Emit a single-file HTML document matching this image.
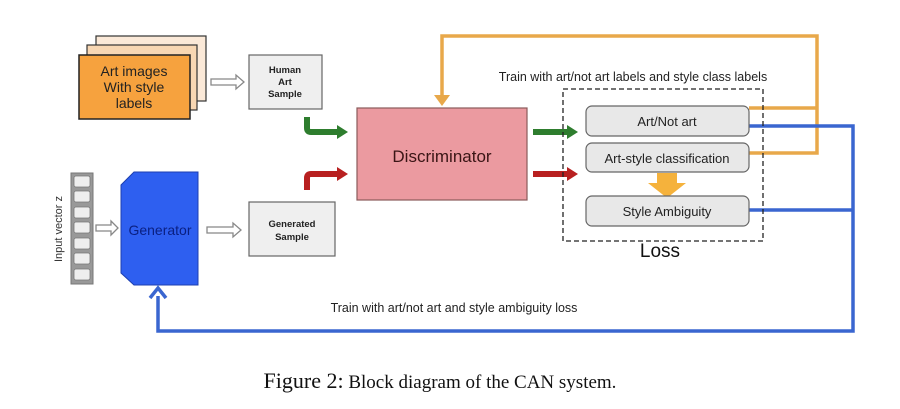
<!DOCTYPE html>
<html><head><meta charset="utf-8"><style>
html,body{margin:0;padding:0;background:#fff;}
svg{display:block;}
text{font-family:"Liberation Sans",sans-serif;}
</style></head><body>
<svg width="900" height="409" viewBox="0 0 900 409" xmlns="http://www.w3.org/2000/svg">
<!-- stacked art images -->
<rect x="96" y="36" width="110" height="65" fill="#fbe9d8" stroke="#333" stroke-width="1.2"/>
<rect x="87" y="45" width="110" height="65" fill="#f8d7b3" stroke="#333" stroke-width="1.2"/>
<rect x="79" y="55" width="111" height="64" fill="#f6a23e" stroke="#222" stroke-width="1.5"/>
<text x="134" y="76" font-size="14" text-anchor="middle" fill="#222">Art images</text>
<text x="134" y="92" font-size="14" text-anchor="middle" fill="#222">With style</text>
<text x="134" y="108" font-size="14" text-anchor="middle" fill="#222">labels</text>
<!-- hollow arrows -->
<g fill="#fff" stroke="#888" stroke-width="1.3">
<path d="M211 79 H236 V75 L244 82 L236 89 V85 H211 Z"/>
<path d="M96 225 H111 V221 L118 228 L111 235 V231 H96 Z"/>
<path d="M207 227 H233 V223 L241 230 L233 237 V233 H207 Z"/>
</g>
<!-- human art sample -->
<rect x="249" y="55" width="73" height="54" fill="#efefef" stroke="#666" stroke-width="1.2"/>
<text x="285" y="73" font-size="9.5" font-weight="bold" text-anchor="middle" fill="#222">Human</text>
<text x="285" y="85" font-size="9.5" font-weight="bold" text-anchor="middle" fill="#222">Art</text>
<text x="285" y="97" font-size="9.5" font-weight="bold" text-anchor="middle" fill="#222">Sample</text>
<!-- generated sample -->
<rect x="249" y="202" width="86" height="54" fill="#efefef" stroke="#666" stroke-width="1.2"/>
<text x="292" y="227" font-size="9.5" font-weight="bold" text-anchor="middle" fill="#222">Generated</text>
<text x="292" y="240" font-size="9.5" font-weight="bold" text-anchor="middle" fill="#222">Sample</text>
<!-- green / red bent arrows -->
<path d="M307 117 V128 Q307 132 311 132 H338" fill="none" stroke="#2e7d2e" stroke-width="6"/>
<path d="M337 125 L348 132 L337 139 Z" fill="#2e7d2e"/>
<path d="M307 190 V178 Q307 174 311 174 H338" fill="none" stroke="#b82020" stroke-width="6"/>
<path d="M337 167 L348 174 L337 181 Z" fill="#b82020"/>
<!-- input vector -->
<rect x="71" y="173" width="22" height="111" fill="#999" stroke="#777"/>
<g fill="#eee" stroke="#777" stroke-width="0.8">
<rect x="74" y="176" width="16" height="11" rx="2"/>
<rect x="74" y="191" width="16" height="11" rx="2"/>
<rect x="74" y="207" width="16" height="11" rx="2"/>
<rect x="74" y="222" width="16" height="11" rx="2"/>
<rect x="74" y="238" width="16" height="11" rx="2"/>
<rect x="74" y="253" width="16" height="11" rx="2"/>
<rect x="74" y="269" width="16" height="11" rx="2"/>
</g>
<text transform="translate(62 229) rotate(-90)" font-size="11" text-anchor="middle" fill="#333">Input vector z</text>
<!-- generator -->
<path d="M134 172 H198 V285 H134 L121 273 V185 Z" fill="#2e5ff0" stroke="#1d3fb0" stroke-width="1"/>
<text x="160" y="235" font-size="14" text-anchor="middle" fill="#0a1f80">Generator</text>
<!-- discriminator -->
<rect x="357" y="108" width="170" height="92" fill="#eb9aa0" stroke="#8a5a5a" stroke-width="1.2"/>
<text x="442" y="162" font-size="17" text-anchor="middle" fill="#3a1515">Discriminator</text>
<!-- orange loop -->
<path d="M749 108 H817 M749 153 H817 V36 H442 V98" fill="none" stroke="#e8a84a" stroke-width="3.5"/>
<path d="M434 95 L442 106 L450 95 Z" fill="#e8a84a"/>
<text x="633" y="81" font-size="12.5" text-anchor="middle" fill="#222">Train with art/not art labels and style class labels</text>
<!-- green/red arrows to loss -->
<path d="M533 132 H568" stroke="#2e7d2e" stroke-width="6"/>
<path d="M567 125 L578 132 L567 139 Z" fill="#2e7d2e"/>
<path d="M533 174 H568" stroke="#b82020" stroke-width="6"/>
<path d="M567 167 L578 174 L567 181 Z" fill="#b82020"/>
<!-- blue loop -->
<path d="M749 126 H853 V331 H158 V296 M749 210 H853" fill="none" stroke="#3a66d0" stroke-width="3.5"/>
<path d="M150 298 L158 288 L166 298" fill="none" stroke="#3a66d0" stroke-width="3.5"/>
<text x="454" y="312" font-size="12.5" text-anchor="middle" fill="#222">Train with art/not art and style ambiguity loss</text>
<!-- loss dashed box -->
<rect x="563" y="89" width="200" height="152" fill="none" stroke="#222" stroke-width="1.3" stroke-dasharray="5,3"/>
<rect x="586" y="106" width="163" height="30" rx="6" fill="#e8e8e8" stroke="#666" stroke-width="1.2"/>
<text x="667" y="126" font-size="13" text-anchor="middle" fill="#222">Art/Not art</text>
<rect x="586" y="143" width="163" height="29" rx="6" fill="#e8e8e8" stroke="#666" stroke-width="1.2"/>
<text x="667" y="163" font-size="13" text-anchor="middle" fill="#222">Art-style classification</text>
<path d="M657 173 H677 V183 H686 L667 198 L648 183 H657 Z" fill="#f5b23c"/>
<rect x="586" y="196" width="163" height="30" rx="6" fill="#e8e8e8" stroke="#666" stroke-width="1.2"/>
<text x="667" y="216" font-size="13" text-anchor="middle" fill="#222">Style Ambiguity</text>
<text x="660" y="257" font-size="19" text-anchor="middle" fill="#111">Loss</text>
<!-- caption -->
<text x="440" y="388" style="font-family:'Liberation Serif',serif" text-anchor="middle" fill="#111"><tspan font-size="22">Figure 2:</tspan><tspan font-size="19"> Block diagram of the CAN system.</tspan></text>
</svg>
</body></html>
